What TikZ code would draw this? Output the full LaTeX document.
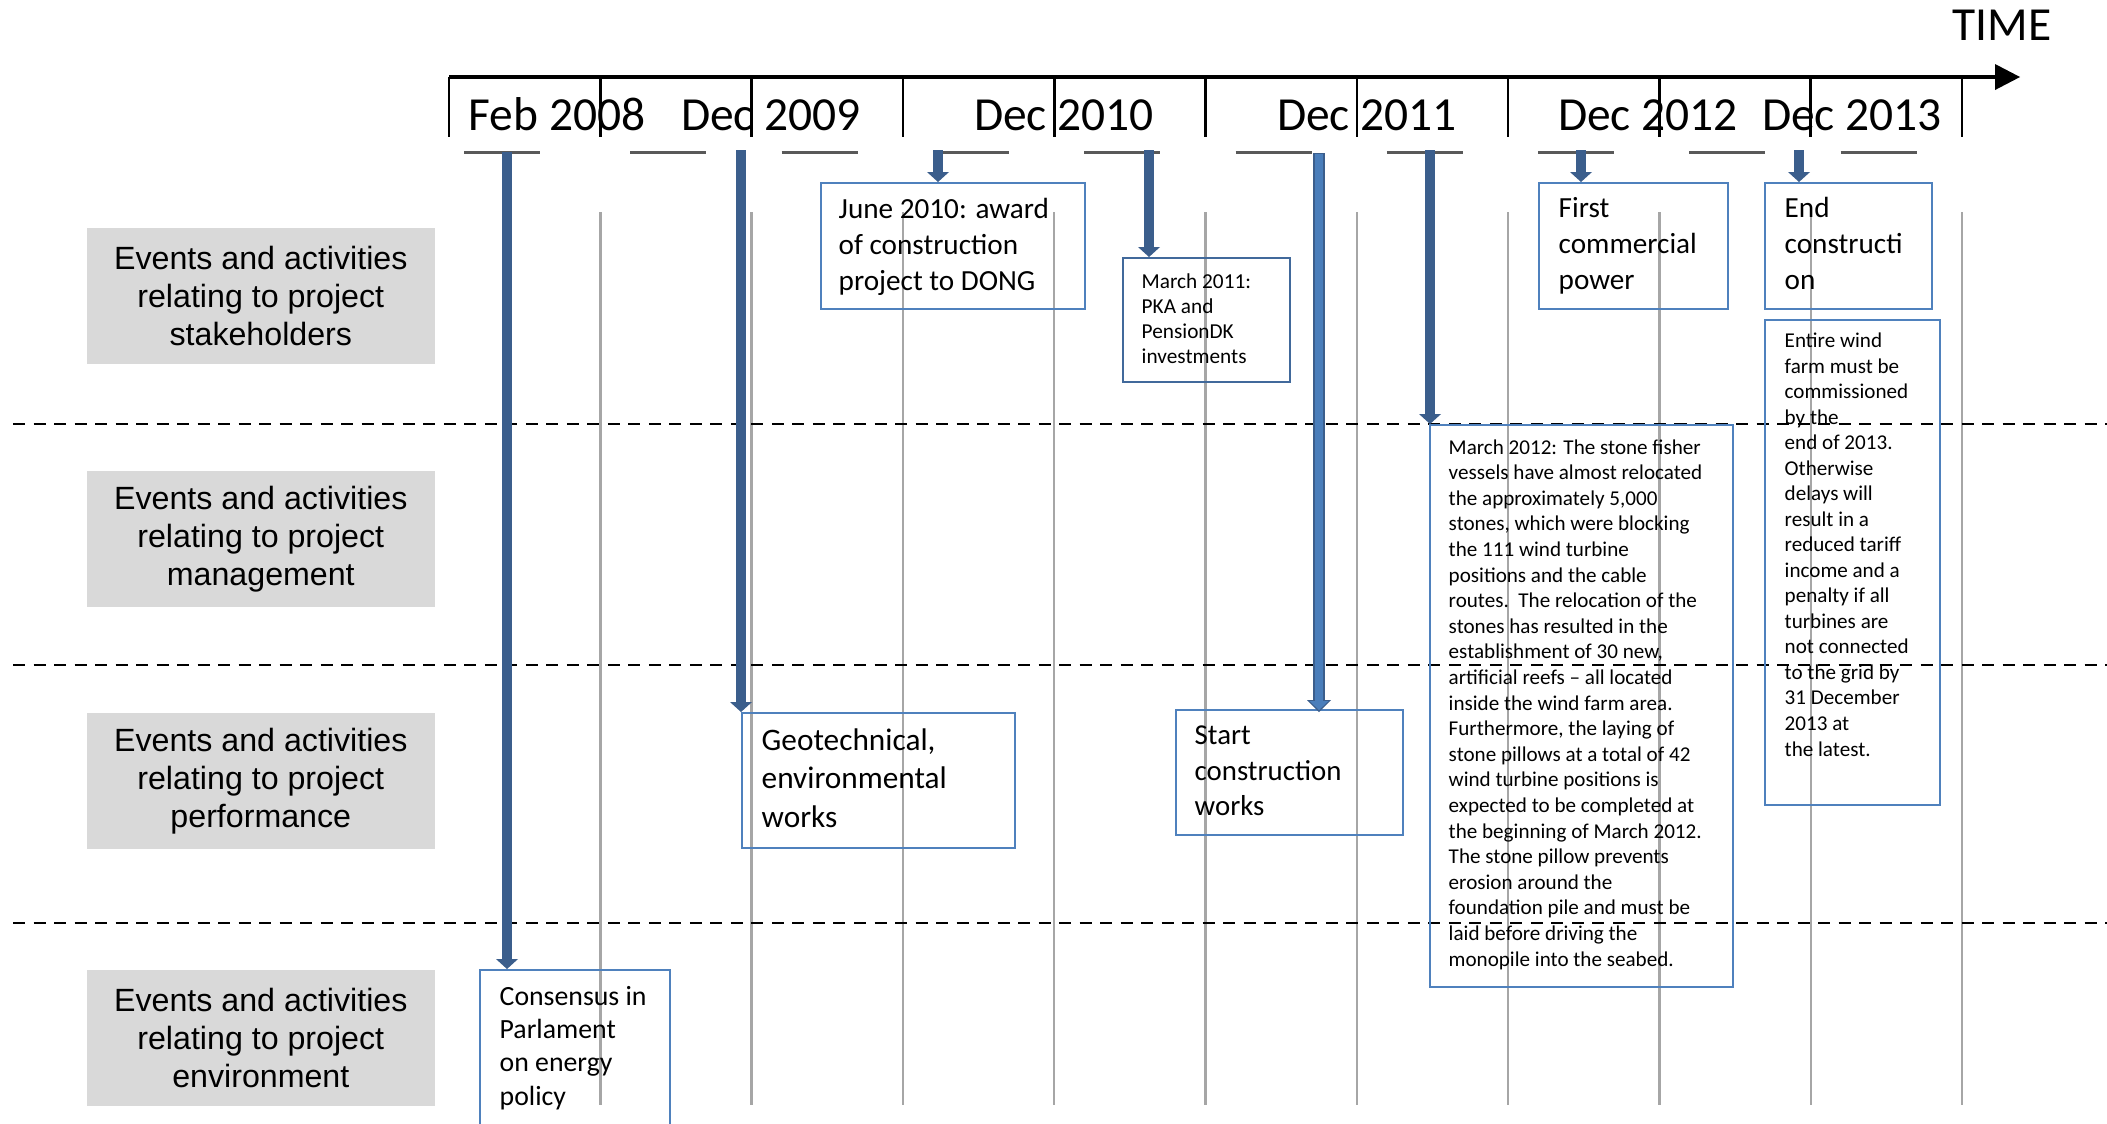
\documentclass[tikz,border=0pt]{standalone}
\usepackage{fontspec}
\setmainfont{Carlito}
\newfontfamily\arialf{Liberation Sans}
\usetikzlibrary{arrows.meta,calc}
\definecolor{arrowblue}{HTML}{3B5E8C}
\definecolor{lightarrow}{HTML}{4A7EBB}
\definecolor{boxblue}{HTML}{4F81BD}
\definecolor{darkbox}{HTML}{41699B}
\definecolor{labgray}{HTML}{D9D9D9}
\definecolor{gridgray}{HTML}{A6A6A6}
\definecolor{dashgray}{HTML}{595959}
\begin{document}
\begin{tikzpicture}[x=0.01cm,y=-0.01cm,
  labelbox/.style={fill=labgray, minimum width=3.48cm, minimum height=1.36cm, inner sep=0pt, align=center, anchor=north west, font=\arialf\fontsize{9.15pt}{10.8pt}\selectfont},
  evbox/.style={draw=boxblue, line width=0.5pt, inner sep=0pt, anchor=north west},
  evtext/.style={inner sep=0pt, anchor=base west, align=left},
  bigtxt/.style={font=\fontsize{8.3pt}{10.2pt}\selectfont},
  datelab/.style={inner sep=0pt, anchor=base, font=\fontsize{13.5pt}{16pt}\selectfont},
  gridline/.style={gridgray, line width=0.7pt},
  sepline/.style={black, line width=0.6pt, dash pattern=on 0.12cm off 0.085cm},
  shortdash/.style={dashgray, line width=0.85pt},
  tickline/.style={black, line width=0.75pt},
  axisline/.style={black, line width=1.3pt, -{Triangle[width=0.26cm, length=0.25cm, line width=0pt]}},
  evarrow/.style={arrowblue, line width=0.1cm, -{Triangle[width=0.22cm, length=0.1cm, line width=0pt]}}
]
\clip (0,0) rectangle (2107,1123);
\useasboundingbox (0,0) rectangle (2107,1123);

% grey row labels
\node[labelbox] (lab1) at (86,227) {Events and activities\\relating to project\\stakeholders};
\node[labelbox] (lab2) at (86,470) {Events and activities\\relating to project\\management};
\node[labelbox] (lab3) at (86,712) {Events and activities\\relating to project\\performance};
\node[labelbox] (lab4) at (86,969) {Events and activities\\relating to project\\environment};

% vertical grid lines
\foreach \i in {1,...,10} {
  \draw[gridline] ({449+151.3*\i},212) -- ({449+151.3*\i},1105);
}
% row separators
\foreach \yy in {424,665,923} {
  \draw[sepline] (13,\yy) -- (2107,\yy);
}
% short dark dashes under the axis
\draw[shortdash] (464,152) -- (540,152);
\foreach \i in {1,...,9} {
  \draw[shortdash] ({449+151.3*\i+30},152) -- ({449+151.3*\i+106},152);
}
% time axis
\coordinate (axstart) at (449,77);
\coordinate (axend) at (2020,77);
\draw[axisline] (axstart) -- (axend);
\foreach \i in {0,...,10} {
  \draw[tickline] ({449+151.3*\i},77) -- ({449+151.3*\i},137);
}
\node[inner sep=0pt, anchor=base west, font=\fontsize{13.5pt}{16pt}\selectfont] (time) at (1952,40) {TIME};

\node[datelab] (d1) at (557,130) {Feb 2008};
\node[datelab] (d2) at (771,130) {Dec 2009};
\node[datelab] (d3) at (1064,130) {Dec 2010};
\node[datelab] (d4) at (1367,130) {Dec 2011};
\node[datelab] (d5) at (1648,130) {Dec 2012};
\node[datelab] (d6) at (1852,130) {Dec 2013};

% event boxes
\node[evbox, minimum width=2.64cm, minimum height=1.26cm] (june) at (820,182) {};
\node[evbox, draw=darkbox, minimum width=1.67cm, minimum height=1.24cm] (m2011) at (1122,257) {};
\node[evbox, minimum width=1.89cm, minimum height=1.26cm] (first) at (1538,182) {};
\node[evbox, minimum width=1.67cm, minimum height=1.26cm] (endc) at (1764,182) {};
\node[evbox, minimum width=1.75cm, minimum height=4.85cm] (entire) at (1764,319) {};
\node[evbox, minimum width=3.03cm, minimum height=5.62cm] (m2012) at (1429,424) {};
\node[evbox, minimum width=2.73cm, minimum height=1.35cm] (geo) at (741,712) {};
\node[evbox, minimum width=2.27cm, minimum height=1.25cm] (start) at (1175,709) {};
\node[evbox, minimum width=1.90cm, minimum height=1.80cm] (cons) at (479,969) {};

% event texts (anchor = baseline of the last line)
\node[evtext, bigtxt] (junet) at (838,290) {June 2010: award\\of construction\\project to DONG};
\node[evtext, bigtxt] (firstt) at (1558,289) {First\\commercial\\power};
\node[evtext, bigtxt] (endct) at (1784,289) {End\\constructi\\on};
\node[evtext, font=\fontsize{6.05pt}{7.1pt}\selectfont] (m2011t) at (1141,363) {March 2011:\\PKA and\\PensionDK\\investments};
\node[evtext, font=\fontsize{6pt}{7.26pt}\selectfont] (entiret) at (1784,756) {Entire wind\\farm must be\\commissioned\\by the\\end of 2013.\\Otherwise\\delays will\\result in a\\reduced tariff\\income and a\\penalty if all\\turbines are\\not connected\\to the grid by\\31 December\\2013 at\\the latest.};
\node[evtext, font=\fontsize{6pt}{7.28pt}\selectfont] (m2012t) at (1448,966) {March 2012: The stone fisher\\vessels have almost relocated\\the approximately 5,000\\stones, which were blocking\\the 111 wind turbine\\positions and the cable\\routes.\ \ The relocation of the\\stones has resulted in the\\establishment of 30 new,\\artificial reefs -- all located\\inside the wind farm area.\\Furthermore, the laying of\\stone pillows at a total of 42\\wind turbine positions is\\expected to be completed at\\the beginning of March 2012.\\The stone pillow prevents\\erosion around the\\foundation pile and must be\\laid before driving the\\monopile into the seabed.};
\node[evtext, font=\fontsize{8.9pt}{10.95pt}\selectfont] (geot) at (761,827) {Geotechnical,\\environmental\\works};
\node[evtext, font=\fontsize{8.2pt}{9.96pt}\selectfont] (startt) at (1194,815) {Start\\construction\\works};
\node[evtext, font=\fontsize{7.9pt}{9.47pt}\selectfont] (const) at (499,1105) {Consensus in\\Parlament\\on energy\\policy};

% arrow start points
\coordinate (s1) at (507,152);
\coordinate (s2) at (741,150);
\coordinate (s3) at (938,150);
\coordinate (s4) at (1149,150);
\coordinate (s5) at (1319,153);
\coordinate (s6) at (1430,150);
\coordinate (s7) at (1581,150);
\coordinate (s8) at (1799,150);

\draw[evarrow] (s1) -- (s1 |- cons.north);
\draw[evarrow] (s2) -- (s2 |- geo.north);
\draw[evarrow] (s3) -- (s3 |- june.north);
\draw[evarrow] (s4) -- (s4 |- m2011.north);
\draw[evarrow] (s6) -- (s6 |- m2012.north);
\draw[evarrow] (s7) -- (s7 |- first.north);
\draw[evarrow] (s8) -- (s8 |- endc.north);
% lighter arrow with outline
\draw[arrowblue, line width=0.12cm, -{Triangle[width=0.24cm, length=0.12cm, line width=0pt]}] (s5) -- ($(s5 |- start.north)+(0,3)$);
\draw[lightarrow, line width=0.075cm, shorten >=0.02cm, -{Triangle[width=0.19cm, length=0.09cm, line width=0pt]}] ($(s5)+(0,1)$) -- ($(s5 |- start.north)+(0,3)$);
\end{tikzpicture}
\end{document}
